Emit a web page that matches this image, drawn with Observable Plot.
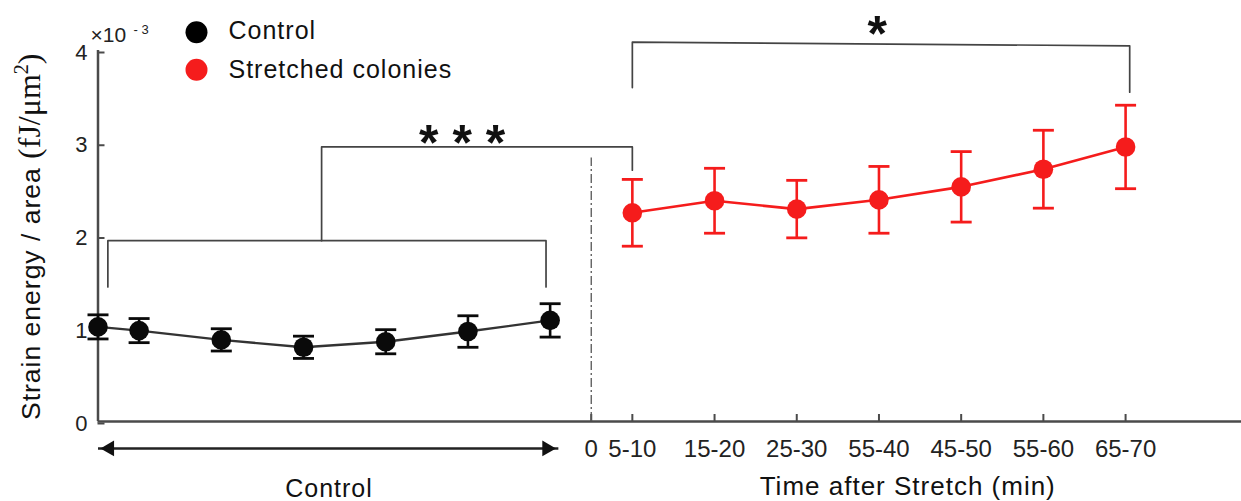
<!DOCTYPE html>
<html><head><meta charset="utf-8">
<script src="https://cdn.jsdelivr.net/npm/d3@7"></script>
<script src="https://cdn.jsdelivr.net/npm/@observablehq/plot@0.6"></script>
<style>
html,body{margin:0;padding:0;background:#fff;}
#chart svg{display:block;}
</style></head><body><div id="chart"></div>
<script>
// ---- data ----
const controlPos = [-6, -5.5, -4.5, -3.5, -2.5, -1.5, -0.5];
const controlMean = [1.02, 0.98, 0.88, 0.80, 0.86, 0.97, 1.09];
const controlErr = [0.13, 0.13, 0.12, 0.12, 0.13, 0.17, 0.18];
const timeLabels = ["5-10", "15-20", "25-30", "55-40", "45-50", "55-60", "65-70"];
const stretchPos = [0.5, 1.5, 2.5, 3.5, 4.5, 5.5, 6.5];
const stretchMean = [2.25, 2.38, 2.29, 2.39, 2.53, 2.72, 2.96];
const stretchErr = [0.36, 0.35, 0.31, 0.36, 0.38, 0.42, 0.45];
const yTicks = [0, 1, 2, 3, 4];
const xTickPos = [0, ...stretchPos];
const xTickLabels = ["0", ...timeLabels];
const dividerX = [0];
const dividerTop = 2.84;
// significance brackets: [x, y] corners in chart units
const bracketControl = [[-5.88, 1.45], [-5.88, 1.95], [-0.55, 1.95], [-0.55, 1.45]];
const bracketTriple = [[-3.28, 1.95], [-3.28, 2.96], [0.5, 2.96], [0.5, 2.71]];
const bracketSingle = [[0.5, 3.60], [0.5, 4.09], [6.55, 4.05], [6.55, 3.55]];
const sigMarks = [{x: -1.57, y: 3.12, label: "* * *"}, {x: 3.48, y: 4.30, label: "*"}];
const controlArrow = [{x1: -6, x2: -0.4, y: -0.29}];
const legendItems = ["Control", "Stretched colonies"];
const legendColors = ["#000000", "#f51c1c"];

const control = controlPos.map((x, i) => ({x, m: controlMean[i], e: controlErr[i]}));
const stretched = stretchPos.map((x, i) => ({x, m: stretchMean[i], e: stretchErr[i]}));

const capSymbol = {draw(ctx, size) { const w = Math.sqrt(size / Math.PI); ctx.moveTo(-w, 0); ctx.lineTo(w, 0); }};
const sans = "'Liberation Sans', Arial, Helvetica, sans-serif";
const serif = "'Liberation Serif', 'Times New Roman', serif";
const black = "#0a0a0a", red = legendColors[1], axisCol = "#4a4a4a", bracketCol = "#444";

function errorMarks(data, color, lineW) {
  return [
    Plot.line(data, {x: "x", y: "m", stroke: color === black ? "#333" : color, strokeWidth: lineW}),
    Plot.ruleX(data, {x: "x", y1: d => d.m - d.e, y2: d => d.m + d.e, stroke: color, strokeWidth: 2.6}),
    Plot.dot(data, {x: "x", y: d => d.m + d.e, symbol: capSymbol, r: 10.5, stroke: color, strokeWidth: 2.8, fill: "none"}),
    Plot.dot(data, {x: "x", y: d => d.m - d.e, symbol: capSymbol, r: 10.5, stroke: color, strokeWidth: 2.8, fill: "none"}),
    Plot.dot(data, {x: "x", y: "m", r: 9.8, fill: color, stroke: "none"})
  ];
}

const plot = Plot.plot({
  width: 1241, height: 501,
  marginLeft: 97.5, marginRight: 0, marginTop: 50, marginBottom: 80,
  x: {domain: [-6, 7.91]},
  y: {domain: [0, 4]},
  style: {fontFamily: sans, background: "white", color: "#222", overflow: "visible"},
  marks: [
    // axes
    Plot.ruleY([0], {stroke: axisCol, strokeWidth: 2.5}),
    Plot.ruleX([-6], {y1: 0, y2: 4, stroke: axisCol, strokeWidth: 2.5}),
    Plot.axisY(yTicks, {anchor: "left", label: null, tickSize: -7, tickPadding: 17.5, fontSize: 22, stroke: axisCol, strokeWidth: 2, fill: "#222", dy: 2, tickFormat: d => String(d)}),
    Plot.axisX(xTickPos, {anchor: "bottom", label: null, tickSize: -7, tickPadding: 25, fontSize: 24, stroke: axisCol, strokeWidth: 2, fill: "#222", tickFormat: d => xTickLabels[xTickPos.indexOf(d)]}),
    // divider at stretch time 0
    Plot.ruleX(dividerX, {y1: 0, y2: dividerTop, stroke: "#555", strokeWidth: 1.3, strokeDasharray: "9,3,2,3"}),
    // brackets
    Plot.line(bracketControl, {stroke: bracketCol, strokeWidth: 1.7}),
    Plot.line(bracketTriple, {stroke: bracketCol, strokeWidth: 1.7}),
    Plot.line(bracketSingle, {stroke: bracketCol, strokeWidth: 1.7}),
    Plot.text(sigMarks, {x: "x", y: "y", text: "label", fontSize: 50, fontWeight: "bold", fill: "#111", lineAnchor: "middle", dy: 12}),
    // data
    ...errorMarks(control, black, 2.4),
    ...errorMarks(stretched, red, 2.6),
    // control arrow
    Plot.link(controlArrow, {x1: "x1", x2: "x2", y1: "y", y2: "y", stroke: "#222", strokeWidth: 2.5}),
    Plot.dot(controlArrow, {x: "x2", y: "y", symbol: "triangle2", rotate: 90, r: 7.5, fill: "#111", dx: -11.5}),
    Plot.dot(controlArrow, {x: "x1", y: "y", symbol: "triangle2", rotate: -90, r: 7.5, fill: "#111", dx: 11.5}),
    // axis titles
    Plot.text(["Control"], {x: -3.19, frameAnchor: "bottom", text: d => d, fontSize: 25, lineAnchor: "bottom", dy: 75, fill: "#111"}),
    Plot.text(["Time after Stretch (min)"], {x: 3.85, frameAnchor: "bottom", text: d => d, fontSize: 26, lineAnchor: "bottom", dy: 73, fill: "#111"}),
    // exponent
    Plot.text(["×10"], {frameAnchor: "top-left", text: d => d, fontSize: 21, textAnchor: "start", lineAnchor: "bottom", dx: -7.5, dy: -8.3, fill: "#222"}),
    Plot.text(["- 3"], {frameAnchor: "top-left", text: d => d, fontSize: 13, textAnchor: "start", lineAnchor: "bottom", dx: 35.5, dy: -16.5, fill: "#222"}),
    // legend
    Plot.dot([0], {frameAnchor: "top-left", dx: 98.5, dy: -18.3, r: 11, fill: legendColors[0]}),
    Plot.dot([1], {frameAnchor: "top-left", dx: 98.5, dy: 19.3, r: 11, fill: legendColors[1]}),
    Plot.text([legendItems[0]], {frameAnchor: "top-left", text: d => d, fontSize: 25, textAnchor: "start", lineAnchor: "bottom", dx: 130.5, dy: -12, fill: "#111"}),
    Plot.text([legendItems[1]], {frameAnchor: "top-left", text: d => d, fontSize: 25, textAnchor: "start", lineAnchor: "bottom", dx: 130.5, dy: 27, fill: "#111"})
  ]
});

// letter spacing to mimic the wide typeface
d3.select(plot).selectAll("text").filter(function() {
  return ["Control", "Stretched colonies", "Time after Stretch (min)"].includes(this.textContent);
}).style("letter-spacing", "1px");

// y-axis title with mixed fonts
const yl = d3.select(plot).append("text")
  .attr("transform", "translate(40,420) rotate(-90)")
  .attr("text-anchor", "start")
  .attr("fill", "#111");
yl.append("tspan").attr("font-family", sans).attr("font-size", 26.5).style("letter-spacing", "1px").text("Strain energy / area ");
yl.append("tspan").attr("font-family", serif).attr("font-size", 32).text("(fJ/μm");
yl.append("tspan").attr("font-family", serif).attr("font-size", 20).attr("dy", -12).text("2");
yl.append("tspan").attr("font-family", serif).attr("font-size", 32).attr("dy", 12).text(")");

document.getElementById("chart").appendChild(plot);
</script></body></html>
